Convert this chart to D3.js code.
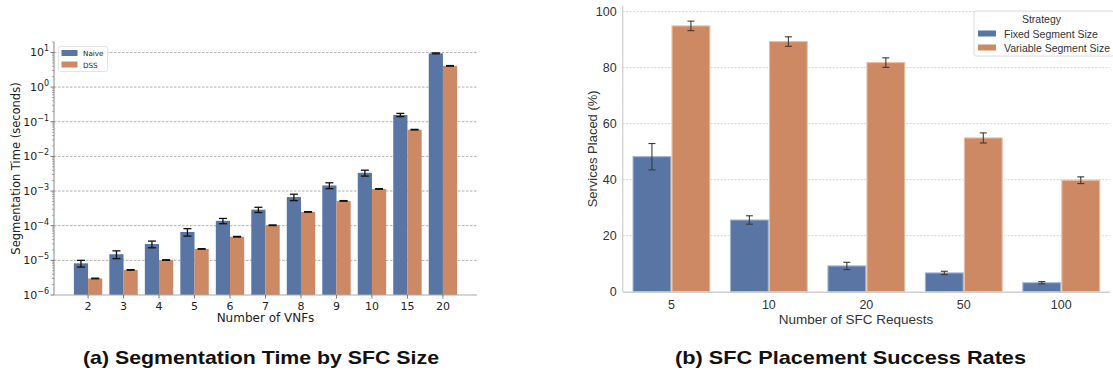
<!DOCTYPE html>
<html><head><meta charset="utf-8">
<script src="https://cdn.jsdelivr.net/npm/d3@7"></script>
<style>body{margin:0;background:#fff}svg{display:block}</style>
</head><body>
<svg id="c" width="1113" height="372"></svg>
<script>
// ---- Data: panel (a) ----
const vnfCategories = ["2","3","4","5","6","7","8","9","10","15","20"];
const naiveTime = [8.2e-6,1.5e-5,2.95e-5,6.6e-5,1.38e-4,2.9e-4,6.7e-4,1.45e-3,3.35e-3,0.157,9.4];
const naiveErr  = [1.8e-6,3.8e-6,6.5e-6,1.6e-5,2.4e-5,5e-5,1.4e-4,2.8e-4,6.5e-4,0.017,0.3];
const dssTime   = [3.0e-6,5.3e-6,1.02e-5,2.14e-5,4.8e-5,1.03e-4,2.5e-4,5.2e-4,1.15e-3,0.059,4.1];
const dssErr    = [6e-8,1e-7,2e-7,4e-7,1e-6,2e-6,5e-6,1e-5,2.3e-5,1.2e-3,0.08];
const logTickExps = [-6,-5,-4,-3,-2,-1,0,1];
const seriesA = ["Naive","DSS"];
// ---- Data: panel (b) ----
const sfcCategories = ["5","10","20","50","100"];
const fixedPlaced = [48.2,25.6,9.2,6.7,3.2];
const fixedErr    = [4.7,1.5,1.3,0.6,0.4];
const variablePlaced = [94.9,89.3,81.8,54.9,39.8];
const variableErr    = [1.7,1.7,1.7,1.8,1.2];
const linTicks = [0,20,40,60,80,100];
const seriesB = ["Fixed Segment Size","Variable Segment Size"];

const BLUE="#5875a4", ORANGE="#cc8963";
const svg=d3.select("#c");

// ================= Panel (a) =================
(function(){
  const F="DejaVu Sans, sans-serif";
  const L=54,R=477,T=42,B=295;
  const x=d3.scaleBand().domain(vnfCategories).range([L,R]).paddingInner(0).paddingOuter(0.46);
  const y=d3.scaleLog().domain([1e-6,20]).range([B,T]);
  const g=svg.append("g");
  g.selectAll(".gr").data(logTickExps.slice(1)).join("line")
    .attr("x1",L).attr("x2",R).attr("y1",d=>y(Math.pow(10,d))).attr("y2",d=>y(Math.pow(10,d)))
    .attr("stroke","#9a9a9a").attr("stroke-width",0.8).attr("stroke-dasharray","2.5,1.5");
  const bw=x.step()*0.4;
  const cx=d=>x(d)+x.bandwidth()/2;
  const sets=[[naiveTime,naiveErr,BLUE,-1],[dssTime,dssErr,ORANGE,0]];
  sets.forEach(([vals,errs,col,off])=>{
    g.selectAll(null).data(vnfCategories).join("rect")
      .attr("x",(d)=>cx(d)+off*bw).attr("width",bw)
      .attr("y",(d,i)=>y(vals[i])).attr("height",(d,i)=>B-y(vals[i]))
      .attr("fill",col);
  });
  sets.forEach(([vals,errs,col,off])=>{
    vnfCategories.forEach((d,i)=>{
      const xc=cx(d)+off*bw+bw/2;
      const y1=y(vals[i]+errs[i]), y2=y(Math.max(vals[i]-errs[i],1e-7));
      g.append("line").attr("x1",xc).attr("x2",xc).attr("y1",y1).attr("y2",y2).attr("stroke","#111").attr("stroke-width",1.3);
      [y1,y2].forEach(yy=>g.append("line").attr("x1",xc-4).attr("x2",xc+4).attr("y1",yy).attr("y2",yy).attr("stroke","#111").attr("stroke-width",1.3));
    });
  });
  g.append("line").attr("x1",L).attr("x2",L).attr("y1",T).attr("y2",B).attr("stroke","#888").attr("stroke-width",1);
  g.append("line").attr("x1",L).attr("x2",R).attr("y1",B).attr("y2",B).attr("stroke","#aaa").attr("stroke-width",1.2);
  logTickExps.forEach(e=>{
    const yy=y(Math.pow(10,e));
    g.append("line").attr("x1",L-3.5).attr("x2",L).attr("y1",yy).attr("y2",yy).attr("stroke","#555").attr("stroke-width",0.8);
    const t=g.append("text").attr("x",L-5).attr("y",yy+4).attr("text-anchor","end")
      .attr("font-family",F).attr("font-size",11).attr("fill","#222");
    t.append("tspan").text("10");
    t.append("tspan").attr("dy",-5).attr("font-size",8).text(String(e).replace("-","\u2212"));
    if(e<1){
      for(let m=2;m<=9;m++){
        const v=m*Math.pow(10,e); if(v>20) continue;
        const ym=y(v);
        g.append("line").attr("x1",L-2).attr("x2",L).attr("y1",ym).attr("y2",ym).attr("stroke","#777").attr("stroke-width",0.6);
      }
    } else {
      const ym=y(20);
      g.append("line").attr("x1",L-2).attr("x2",L).attr("y1",ym).attr("y2",ym).attr("stroke","#777").attr("stroke-width",0.6);
    }
  });
  vnfCategories.forEach(d=>{
    g.append("line").attr("x1",cx(d)).attr("x2",cx(d)).attr("y1",B).attr("y2",B+3.5).attr("stroke","#555").attr("stroke-width",0.8);
    g.append("text").attr("x",cx(d)).attr("y",B+15).attr("text-anchor","middle")
      .attr("font-family",F).attr("font-size",11).attr("fill","#222").text(d);
  });
  g.append("text").attr("x",(L+R)/2).attr("y",322).attr("text-anchor","middle")
    .attr("font-family",F).attr("font-size",12).attr("fill","#222").text("Number of VNFs");
  g.append("text").attr("transform",`translate(20,${(T+B)/2}) rotate(-90)`).attr("text-anchor","middle")
    .attr("font-family",F).attr("font-size",11.5).attr("fill","#222").text("Segmentation Time (seconds)");
  const lg=g.append("g");
  lg.append("rect").attr("x",58.5).attr("y",46.5).attr("width",49).attr("height",25).attr("rx",2)
    .attr("fill","#fff").attr("fill-opacity",0.85).attr("stroke","#ddd").attr("stroke-width",0.8);
  seriesA.forEach((s,i)=>{
    lg.append("rect").attr("x",61.5).attr("y",50+i*11.5).attr("width",16).attr("height",6).attr("fill",i?ORANGE:BLUE);
    lg.append("text").attr("x",83).attr("y",56+i*11.5).attr("font-family",F).attr("font-size",7.2).attr("fill","#222").text(s);
  });
  svg.append("text").attr("x",83).attr("y",364)
    .attr("font-family","Liberation Sans, Arial, sans-serif").attr("font-weight","bold").attr("font-size",18.5).attr("fill","#111")
    .attr("textLength",356).attr("lengthAdjust","spacingAndGlyphs")
    .text("(a) Segmentation Time by SFC Size");
})();

// ================= Panel (b) =================
(function(){
  const F="Liberation Sans, Arial, sans-serif";
  const L=622.7,R=1110,T=6,B=291.7;
  const x=d3.scaleBand().domain(sfcCategories).range([L,R]).padding(0);
  const y=d3.scaleLinear().domain([0,102]).range([B,T]);
  const g=svg.append("g");
  linTicks.forEach(t=>{
    if(t>0) g.append("line").attr("x1",L).attr("x2",R).attr("y1",y(t)).attr("y2",y(t))
      .attr("stroke","#cfcfcf").attr("stroke-width",0.9).attr("stroke-dasharray","2,1.5");
    g.append("text").attr("x",L-6).attr("y",y(t)+4.5).attr("text-anchor","end")
      .attr("font-family",F).attr("font-size",12.5).attr("fill","#333").text(t);
  });
  const bw=x.step()*0.4;
  const cx=d=>x(d)+x.bandwidth()/2;
  const sets=[[fixedPlaced,fixedErr,BLUE,-1,"#9fb2d0"],[variablePlaced,variableErr,ORANGE,0,"#e8bfa5"]];
  sets.forEach(([vals,errs,col,off,edge])=>{
    g.selectAll(null).data(sfcCategories).join("rect")
      .attr("x",d=>cx(d)+off*bw+0.6).attr("width",bw-1.2)
      .attr("y",(d,i)=>y(vals[i])).attr("height",(d,i)=>B-y(vals[i]))
      .attr("fill",col).attr("stroke",edge).attr("stroke-width",1.1);
  });
  sets.forEach(([vals,errs,col,off])=>{
    sfcCategories.forEach((d,i)=>{
      const xc=cx(d)+off*bw+bw/2;
      const y1=y(vals[i]+errs[i]), y2=y(vals[i]-errs[i]);
      g.append("line").attr("x1",xc).attr("x2",xc).attr("y1",y1).attr("y2",y2).attr("stroke","#3a3a3a").attr("stroke-width",1.1);
      [y1,y2].forEach(yy=>g.append("line").attr("x1",xc-3.5).attr("x2",xc+3.5).attr("y1",yy).attr("y2",yy).attr("stroke","#3a3a3a").attr("stroke-width",1.1));
    });
  });
  g.append("line").attr("x1",L).attr("x2",L).attr("y1",T).attr("y2",B).attr("stroke","#cccccc").attr("stroke-width",1.2);
  g.append("line").attr("x1",L).attr("x2",R).attr("y1",B+0.5).attr("y2",B+0.5).attr("stroke","#d0d0d0").attr("stroke-width",1.6);
  sfcCategories.forEach(d=>{
    g.append("text").attr("x",cx(d)).attr("y",B+17.5).attr("text-anchor","middle")
      .attr("font-family",F).attr("font-size",12.5).attr("fill","#333").text(d);
  });
  g.append("text").attr("x",856).attr("y",324).attr("text-anchor","middle")
    .attr("font-family",F).attr("font-size",13.5).attr("fill","#333").text("Number of SFC Requests");
  g.append("text").attr("transform",`translate(597,${(T+B)/2}) rotate(-90)`).attr("text-anchor","middle")
    .attr("font-family",F).attr("font-size",13).attr("fill","#333").text("Services Placed (%)");
  const lg=g.append("g");
  lg.append("rect").attr("x",974).attr("y",11).attr("width",140).attr("height",45).attr("rx",2)
    .attr("fill","#fff").attr("fill-opacity",0.85).attr("stroke","#d8d8d8").attr("stroke-width",0.9);
  lg.append("text").attr("x",1041.5).attr("y",23).attr("text-anchor","middle").attr("font-family",F).attr("font-size",10.5).attr("fill","#333").text("Strategy");
  seriesB.forEach((s,i)=>{
    lg.append("rect").attr("x",978).attr("y",30.5+i*14).attr("width",18).attr("height",6).attr("fill",i?ORANGE:BLUE);
    lg.append("text").attr("x",1004).attr("y",37.5+i*14).attr("font-family",F).attr("font-size",10.5).attr("fill","#333").text(s);
  });
  svg.append("text").attr("x",675).attr("y",364)
    .attr("font-family",F).attr("font-weight","bold").attr("font-size",18.5).attr("fill","#111")
    .attr("textLength",351).attr("lengthAdjust","spacingAndGlyphs")
    .text("(b) SFC Placement Success Rates");
})();
</script>
</body></html>
